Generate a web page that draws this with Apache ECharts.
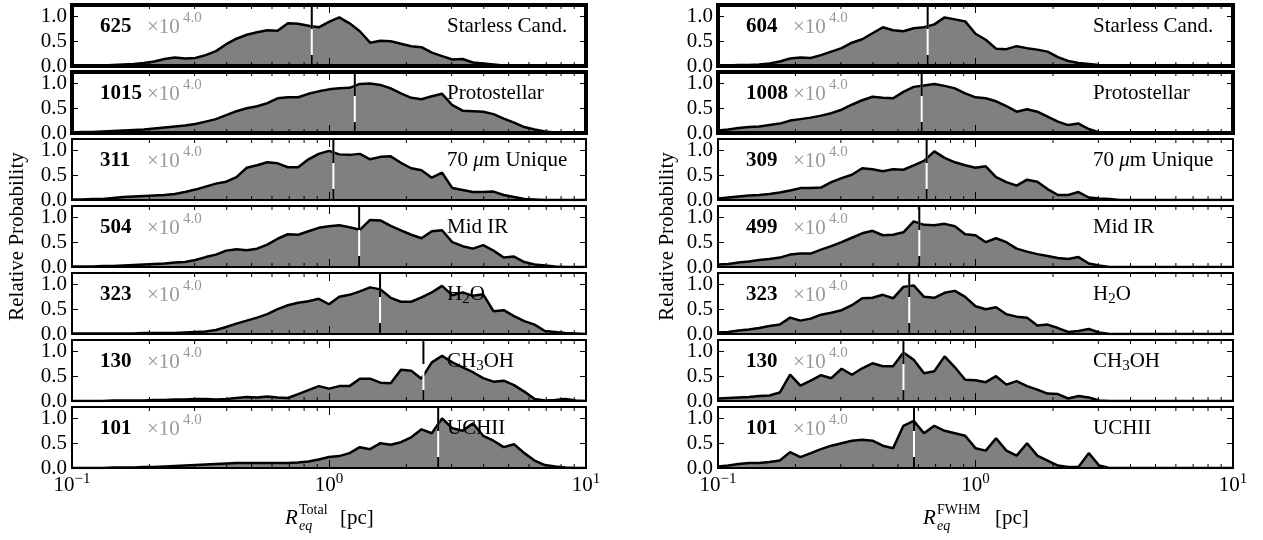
<!DOCTYPE html>
<html>
<head>
<meta charset="utf-8">
<script src="https://cdn.jsdelivr.net/npm/echarts@6/dist/echarts.min.js"></script>
<style>
  html, body { margin: 0; padding: 0; background: #fff; }
  #chart { width: 1263px; height: 540px; }
</style>
</head>
<body>
<div id="chart"></div>
<script>
// radius grid (pc), shared by every panel
var radius = [0.1000, 0.1096, 0.1202, 0.1318, 0.1445, 0.1585, 0.1738, 0.1905, 0.2089, 0.2291,
  0.2512, 0.2754, 0.3020, 0.3311, 0.3631, 0.3981, 0.4365, 0.4786, 0.5248, 0.5754,
  0.6310, 0.6918, 0.7586, 0.8318, 0.9120, 1.000, 1.096, 1.202, 1.318, 1.445,
  1.585, 1.738, 1.905, 2.089, 2.291, 2.512, 2.754, 3.020, 3.311, 3.631,
  3.981, 4.365, 4.786, 5.248, 5.754, 6.310, 6.918, 7.586, 8.318, 9.120, 10.00];

var minorTicks = [0.2, 0.3, 0.4, 0.5, 0.6, 0.7, 0.8, 0.9, 2, 3, 4, 5, 6, 7, 8, 9];

var classLabels = ['Starless Cand.', 'Protostellar', '70 {i|μ}m Unique', 'Mid IR', 'H{s|2}O', 'CH{s|3}OH', 'UCHII'];
var countsTotal = [625, 1015, 311, 504, 323, 130, 101];
var countsFwhm = [604, 1008, 309, 499, 323, 130, 101];
var medianTotal = [0.857, 1.26, 1.04, 1.31, 1.58, 2.33, 2.66];
var medianFwhm = [0.652, 0.618, 0.646, 0.605, 0.553, 0.525, 0.577];

// left column: R_eq Total
var totalStarless = [0, 0, 0.01, 0.01, 0.02, 0.03, 0.04, 0.06, 0.09, 0.14, 0.17,
  0.15, 0.16, 0.22, 0.30, 0.44, 0.55, 0.63, 0.68, 0.72, 0.71,
  0.86, 0.85, 0.81, 0.78, 0.89, 0.98, 0.86, 0.70, 0.47, 0.51,
  0.50, 0.45, 0.40, 0.38, 0.27, 0.20, 0.13, 0.14, 0.07, 0.05,
  0.03, 0.01, 0, 0, 0, 0, 0, 0, 0, 0];
var totalProto = [0.01, 0.02, 0.02, 0.03, 0.04, 0.05, 0.06, 0.07, 0.09, 0.11, 0.13,
  0.15, 0.18, 0.23, 0.28, 0.36, 0.44, 0.50, 0.54, 0.60, 0.70,
  0.72, 0.72, 0.79, 0.84, 0.88, 0.90, 0.91, 0.99, 1.00, 0.97,
  0.90, 0.80, 0.71, 0.68, 0.74, 0.79, 0.56, 0.45, 0.44, 0.43,
  0.38, 0.29, 0.21, 0.12, 0.07, 0.03, 0.01, 0, 0, 0];
var total70 = [0.01, 0.01, 0.02, 0.02, 0.04, 0.06, 0.07, 0.08, 0.09, 0.10, 0.12,
  0.16, 0.21, 0.27, 0.33, 0.37, 0.46, 0.65, 0.70, 0.76, 0.74,
  0.66, 0.66, 0.82, 0.93, 0.99, 0.92, 0.91, 0.93, 0.82, 0.87,
  0.88, 0.75, 0.64, 0.60, 0.45, 0.55, 0.24, 0.20, 0.16, 0.16,
  0.17, 0.10, 0.06, 0.02, 0.01, 0, 0, 0, 0, 0];
var totalMid = [0.01, 0.01, 0.01, 0.02, 0.02, 0.03, 0.04, 0.05, 0.06, 0.07, 0.09,
  0.10, 0.14, 0.20, 0.25, 0.33, 0.36, 0.34, 0.37, 0.45, 0.57,
  0.66, 0.65, 0.72, 0.79, 0.82, 0.84, 0.80, 0.75, 0.95, 0.94,
  0.83, 0.74, 0.65, 0.58, 0.72, 0.74, 0.50, 0.42, 0.37, 0.44,
  0.33, 0.19, 0.21, 0.10, 0.05, 0.03, 0.01, 0, 0, 0];
var totalH2O = [0.01, 0.01, 0.01, 0.01, 0.01, 0.01, 0.01, 0.02, 0.02, 0.02, 0.02,
  0.03, 0.04, 0.05, 0.08, 0.14, 0.21, 0.27, 0.33, 0.40, 0.50,
  0.58, 0.63, 0.66, 0.71, 0.60, 0.75, 0.79, 0.86, 0.94, 0.90,
  0.73, 0.65, 0.65, 0.74, 0.84, 0.97, 0.78, 0.84, 0.77, 0.80,
  0.46, 0.48, 0.36, 0.26, 0.19, 0.06, 0.04, 0.02, 0.01, 0];
var totalCH3OH = [0, 0, 0, 0, 0.01, 0.01, 0.01, 0.01, 0.02, 0.02, 0.03,
  0.03, 0.04, 0.04, 0.03, 0.04, 0.06, 0.08, 0.07, 0.09, 0.07,
  0.06, 0.14, 0.22, 0.30, 0.25, 0.30, 0.30, 0.45, 0.45, 0.37,
  0.36, 0.63, 0.61, 0.45, 0.78, 0.91, 0.78, 0.68, 0.58, 0.46,
  0.39, 0.41, 0.32, 0.19, 0.04, 0.01, 0.02, 0.04, 0.01, 0];
var totalUCHII = [0, 0, 0, 0, 0.01, 0.01, 0.01, 0.02, 0.02, 0.03, 0.04,
  0.05, 0.06, 0.07, 0.08, 0.09, 0.10, 0.10, 0.10, 0.10, 0.10,
  0.10, 0.11, 0.13, 0.17, 0.22, 0.24, 0.30, 0.42, 0.38, 0.50,
  0.47, 0.52, 0.62, 0.78, 0.70, 1.00, 0.80, 0.75, 0.90, 0.65,
  0.55, 0.42, 0.48, 0.30, 0.15, 0.06, 0.03, 0.01, 0, 0];

// right column: R_eq FWHM
var fwhmStarless = [0.01, 0.01, 0.02, 0.02, 0.03, 0.05, 0.09, 0.15, 0.17, 0.16, 0.22,
  0.29, 0.36, 0.47, 0.54, 0.66, 0.78, 0.72, 0.70, 0.76, 0.78,
  0.84, 0.98, 0.94, 0.90, 0.65, 0.53, 0.35, 0.34, 0.40, 0.36,
  0.33, 0.29, 0.18, 0.10, 0.06, 0.04, 0.02, 0.01, 0, 0,
  0, 0, 0, 0, 0, 0, 0, 0, 0, 0];
var fwhmProto = [0.05, 0.07, 0.10, 0.12, 0.13, 0.16, 0.19, 0.25, 0.28, 0.31, 0.35,
  0.40, 0.47, 0.57, 0.66, 0.73, 0.71, 0.70, 0.83, 0.93, 0.96,
  0.99, 0.95, 0.90, 0.80, 0.72, 0.70, 0.64, 0.54, 0.43, 0.48,
  0.43, 0.33, 0.23, 0.16, 0.19, 0.08, 0.01, 0, 0, 0,
  0, 0, 0, 0, 0, 0, 0, 0, 0, 0];
var fwhm70 = [0.03, 0.05, 0.07, 0.09, 0.10, 0.12, 0.15, 0.19, 0.24, 0.24, 0.25,
  0.36, 0.44, 0.51, 0.64, 0.62, 0.58, 0.62, 0.61, 0.70, 0.79,
  0.98, 0.85, 0.76, 0.70, 0.65, 0.68, 0.46, 0.36, 0.29, 0.41,
  0.37, 0.22, 0.10, 0.10, 0.16, 0.05, 0.03, 0.02, 0, 0,
  0, 0, 0, 0, 0, 0, 0, 0, 0, 0];
var fwhmMid = [0.05, 0.06, 0.09, 0.11, 0.14, 0.16, 0.19, 0.25, 0.27, 0.27, 0.35,
  0.42, 0.50, 0.59, 0.68, 0.73, 0.64, 0.65, 0.70, 0.92, 0.85,
  0.84, 0.87, 0.82, 0.66, 0.64, 0.50, 0.58, 0.50, 0.37, 0.31,
  0.26, 0.22, 0.18, 0.16, 0.20, 0.07, 0.03, 0, 0, 0,
  0, 0, 0, 0, 0, 0, 0, 0, 0, 0];
var fwhmH2O = [0.03, 0.04, 0.07, 0.09, 0.12, 0.16, 0.19, 0.33, 0.27, 0.31, 0.39,
  0.43, 0.48, 0.58, 0.72, 0.73, 0.79, 0.72, 0.95, 0.98, 0.75,
  0.73, 0.83, 0.87, 0.75, 0.56, 0.50, 0.54, 0.40, 0.35, 0.33,
  0.17, 0.19, 0.12, 0.04, 0.06, 0.10, 0.03, 0, 0, 0,
  0, 0, 0, 0, 0, 0, 0, 0, 0, 0];
var fwhmCH3OH = [0.05, 0.06, 0.07, 0.08, 0.10, 0.11, 0.17, 0.53, 0.31, 0.41, 0.52,
  0.46, 0.65, 0.53, 0.66, 0.76, 0.70, 0.70, 0.98, 0.83, 0.56,
  0.60, 0.90, 0.68, 0.43, 0.42, 0.38, 0.50, 0.33, 0.40, 0.30,
  0.23, 0.15, 0.14, 0.05, 0.10, 0.07, 0.01, 0, 0, 0,
  0, 0, 0, 0, 0, 0, 0, 0, 0, 0];
var fwhmUCHII = [0.03, 0.05, 0.08, 0.10, 0.10, 0.12, 0.15, 0.32, 0.22, 0.30, 0.38,
  0.45, 0.50, 0.55, 0.57, 0.55, 0.45, 0.40, 0.85, 0.95, 0.70,
  0.85, 0.75, 0.70, 0.65, 0.40, 0.35, 0.60, 0.35, 0.25, 0.50,
  0.25, 0.15, 0.05, 0.02, 0.02, 0.30, 0.05, 0, 0, 0,
  0, 0, 0, 0, 0, 0, 0, 0, 0, 0];

var probTotal = [totalStarless, totalProto, total70, totalMid, totalH2O, totalCH3OH, totalUCHII];
var probFwhm = [fwhmStarless, fwhmProto, fwhm70, fwhmMid, fwhmH2O, fwhmCH3OH, fwhmUCHII];

var serif = '"Liberation Serif", "Times New Roman", serif';
var colLeft = [72, 718];
var colWidth = [514, 515];
var rowTop0 = 5, rowPitch = 67, rowHeight = 61;
var yMax = 1.23;

function expLabel(v) {
    var e = Math.round(Math.log(v) / Math.LN10);
    return '{b|10}{s|' + (e < 0 ? '\u2212' + (-e) : e) + '}';
}

function xAxisDef(g, pos, lineW, labels) {
    return {
        type: 'log', logBase: 10, min: 0.1, max: 10, gridIndex: g, position: pos, z: 5,
        axisLine: { show: true, onZero: false, lineStyle: { color: '#000', width: lineW, cap: 'square' } },
        axisTick: { show: true, inside: true, length: 8, lineStyle: { color: '#000', width: 1 } },
        axisLabel: {
            show: labels, margin: 4, formatter: expLabel,
            rich: {
                b: { fontFamily: serif, fontSize: 21, color: '#000' },
                s: { fontFamily: serif, fontSize: 15, color: '#000', padding: [0, 0, 12, 0] }
            }
        },
        splitLine: { show: false }
    };
}

function yAxisDef(g, pos, lineW, labels) {
    return {
        type: 'value', min: 0, max: yMax, interval: 0.5, gridIndex: g, position: pos, z: 5,
        axisLine: { show: true, onZero: false, lineStyle: { color: '#000', width: lineW, cap: 'square' } },
        axisTick: { show: true, inside: true, length: 6, lineStyle: { color: '#000', width: 1 } },
        axisLabel: {
            show: labels, margin: 5, color: '#000', showMaxLabel: false,
            fontFamily: serif, fontSize: 21,
            formatter: function (v) { return v.toFixed(1); }
        },
        splitLine: { show: false }
    };
}

// short inward ticks at 2..9 x 10^k, top and bottom of a panel
function minorTickItem(params, api) {
    var cs = params.coordSys;
    var px = api.coord([api.value(0), 0])[0];
    var yb = cs.y + cs.height;
    return {
        type: 'group',
        children: [
            { type: 'line', shape: { x1: px, y1: yb, x2: px, y2: yb - 4 }, style: { stroke: '#000', lineWidth: 1 } },
            { type: 'line', shape: { x1: px, y1: cs.y, x2: px, y2: cs.y + 4 }, style: { stroke: '#000', lineWidth: 1 } }
        ]
    };
}

// median marker: white line under a black dashed line
function medianItem(params, api) {
    var cs = params.coordSys;
    var px = api.coord([api.value(0), 0])[0];
    return {
        type: 'group',
        children: [
            { type: 'line', shape: { x1: px, y1: cs.y, x2: px, y2: cs.y + cs.height },
              style: { stroke: '#fff', lineWidth: 2 } },
            { type: 'line', shape: { x1: px, y1: cs.y, x2: px, y2: cs.y + cs.height },
              style: { stroke: '#000', lineWidth: 2, lineDash: [24, 26] } }
        ]
    };
}

function buildOption() {
    var grids = [], xAxes = [], yAxes = [], series = [], graphics = [];
    for (var c = 0; c < 2; c++) {
        for (var r = 0; r < 7; r++) {
            var g = c * 7 + r;
            var panelTop = rowTop0 + r * rowPitch;
            var gl = colLeft[c];
            var bw = r < 2 ? 4 : 2;
            var vals = (c === 0 ? probTotal : probFwhm)[r];
            var med = (c === 0 ? medianTotal : medianFwhm)[r];
            var count = (c === 0 ? countsTotal : countsFwhm)[r];

            grids.push({ left: gl, top: panelTop, width: colWidth[c], height: rowHeight });

            xAxes.push(xAxisDef(g, 'bottom', bw, r === 6));
            xAxes.push(xAxisDef(g, 'top', bw, false));
            yAxes.push(yAxisDef(g, 'left', bw, true));
            yAxes.push(yAxisDef(g, 'right', bw, false));

            series.push({
                type: 'line', xAxisIndex: 2 * g, yAxisIndex: 2 * g, z: 2, silent: true,
                symbol: 'none', showSymbol: false,
                data: radius.map(function (x, i) { return [x, vals[i]]; }),
                lineStyle: { color: '#000', width: 2.5 },
                areaStyle: { color: '#808080', opacity: 1 }
            });
            series.push({
                type: 'custom', xAxisIndex: 2 * g, yAxisIndex: 2 * g, z: 4, silent: true,
                renderItem: medianItem, data: [[med, 0]]
            });
            series.push({
                type: 'custom', xAxisIndex: 2 * g, yAxisIndex: 2 * g, z: 6, silent: true,
                renderItem: minorTickItem, data: minorTicks.map(function (v) { return [v, 0]; })
            });

            graphics.push({
                type: 'text', x: gl + 28, y: panelTop + 22, z: 20,
                style: { text: String(count), font: 'bold 21px ' + serif, fill: '#000', verticalAlign: 'middle' }
            });
            graphics.push({
                type: 'text', x: gl + 75, y: panelTop + 22, z: 20,
                style: { text: '\u00d710', font: '21px ' + serif, fill: '#999', verticalAlign: 'middle' }
            });
            graphics.push({
                type: 'text', x: gl + 111, y: panelTop + 13, z: 20,
                style: { text: '4.0', font: '15px ' + serif, fill: '#999', verticalAlign: 'middle' }
            });
            graphics.push({
                type: 'text', x: gl + 375, y: panelTop + 21, z: 20,
                style: {
                    text: classLabels[r], font: '21px ' + serif, fill: '#000', verticalAlign: 'middle',
                    rich: {
                        i: { fontFamily: serif, fontSize: 21, fontStyle: 'italic', color: '#000' },
                        s: { fontFamily: serif, fontSize: 15, color: '#000', padding: [10, 0, 0, 0] }
                    }
                }
            });
        }
    }

    // axis titles
    var titleY = rowTop0 + (7 * rowPitch - (rowPitch - rowHeight)) / 2;
    [17, 667].forEach(function (x) {
        graphics.push({
            type: 'text', x: x, y: titleY, rotation: Math.PI / 2, z: 20,
            style: { text: 'Relative Probability', font: '21px ' + serif, fill: '#000', align: 'center', verticalAlign: 'middle' }
        });
    });
    [{ x: 285, sup: 'Total', pc: 340 }, { x: 923, sup: 'FWHM', pc: 995 }].forEach(function (t) {
        var y = 518;
        graphics.push({ type: 'text', x: t.x, y: y, z: 20,
            style: { text: 'R', font: 'italic 21px ' + serif, fill: '#000', verticalAlign: 'middle' } });
        graphics.push({ type: 'text', x: t.x + 14, y: y - 8, z: 20,
            style: { text: t.sup, font: '14px ' + serif, fill: '#000', verticalAlign: 'middle' } });
        graphics.push({ type: 'text', x: t.x + 14, y: y + 8, z: 20,
            style: { text: 'eq', font: 'italic 14px ' + serif, fill: '#000', verticalAlign: 'middle' } });
        graphics.push({ type: 'text', x: t.pc, y: y, z: 20,
            style: { text: '[pc]', font: '21px ' + serif, fill: '#000', verticalAlign: 'middle' } });
    });

    return {
        animation: false,
        backgroundColor: '#fff',
        textStyle: { fontFamily: serif },
        grid: grids,
        xAxis: xAxes,
        yAxis: yAxes,
        series: series,
        graphic: { elements: graphics }
    };
}

var chart = echarts.init(document.getElementById('chart'));
chart.setOption(buildOption());
</script>
</body>
</html>
